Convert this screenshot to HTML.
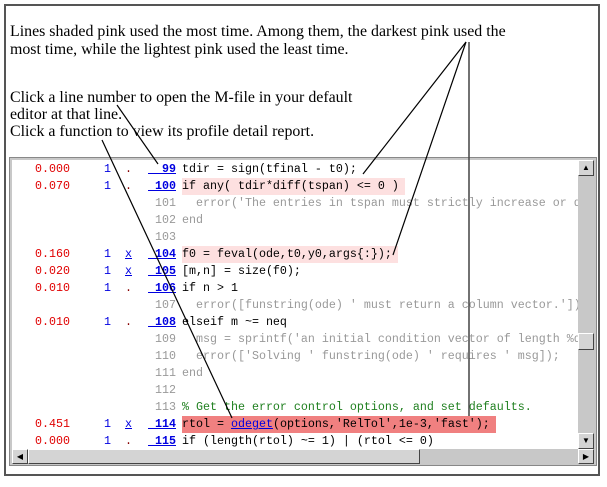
<!DOCTYPE html>
<html><head><meta charset="utf-8"><style>
body{margin:0;width:607px;height:487px;background:#fff;position:relative;overflow:hidden;font-family:"Liberation Serif",serif}
.t{position:absolute;font-size:15.9px;color:#000;white-space:nowrap;line-height:17px}
#outer{position:absolute;left:4px;top:4px;width:596px;height:472px;border:2px solid #555;box-sizing:border-box}
#panel{position:absolute;left:9px;top:157px;width:588px;height:309px;background:#c8c8c8;border:1px solid #888;box-sizing:border-box}
#code{position:absolute;left:12px;top:160px;width:566px;height:289px;background:#fff;overflow:hidden;font-family:"Liberation Mono",monospace;font-size:11.67px}
.r{position:absolute;left:0;height:17px;line-height:17px;white-space:pre;width:566px}
.tm{position:absolute;left:0;width:58px;text-align:right;color:#e00000}
.c1{position:absolute;left:92px;color:#0000e0}
.c2{position:absolute;left:113px;color:#800}
.c2 u,.ln u{color:#0000e0}
.ln{position:absolute;left:134px;width:30px;text-align:right;color:#999}
.ln b{color:#0000e0;text-decoration:underline}
.cd{position:absolute;left:170px;color:#000}
.g{color:#999}.gr{color:#208020}
.p1{background:#fde0e0;padding-right:6px}.p2{background:#f08080;padding-right:6px}
</style></head><body>
<div id="outer"></div>
<div class="t" style="left:10px;top:23px">Lines shaded pink used the most time. Among them, the darkest pink used the</div>
<div class="t" style="left:10px;top:41px">most time, while the lightest pink used the least time.</div>
<div class="t" style="left:10px;top:89px">Click a line number to open the M-file in your default</div>
<div class="t" style="left:10px;top:106px">editor at that line.</div>
<div class="t" style="left:10px;top:123px">Click a function to view its profile detail report.</div>
<div id="panel"></div>
<div id="code">
<div class="r" style="top:1px"><span class="tm">0.000</span><span class="c1">1</span><span class="c2">.</span><span class="ln"><b>  99</b></span><span class="cd">tdir = sign(tfinal - t0);</span></div>
<div class="r" style="top:18px"><span class="tm">0.070</span><span class="c1">1</span><span class="c2">.</span><span class="ln"><b> 100</b></span><span class="cd p1">if any( tdir*diff(tspan) &lt;= 0 )</span></div>
<div class="r" style="top:35px"><span class="ln">101</span><span class="cd g">  error('The entries in tspan must strictly increase or d</span></div>
<div class="r" style="top:52px"><span class="ln">102</span><span class="cd g">end</span></div>
<div class="r" style="top:69px"><span class="ln">103</span></div>
<div class="r" style="top:86px"><span class="tm">0.160</span><span class="c1">1</span><span class="c2"><u>x</u></span><span class="ln"><b> 104</b></span><span class="cd p1">f0 = feval(ode,t0,y0,args{:});</span></div>
<div class="r" style="top:103px"><span class="tm">0.020</span><span class="c1">1</span><span class="c2"><u>x</u></span><span class="ln"><b> 105</b></span><span class="cd">[m,n] = size(f0);</span></div>
<div class="r" style="top:120px"><span class="tm">0.010</span><span class="c1">1</span><span class="c2">.</span><span class="ln"><b> 106</b></span><span class="cd">if n &gt; 1</span></div>
<div class="r" style="top:137px"><span class="ln">107</span><span class="cd g">  error([funstring(ode) ' must return a column vector.'])</span></div>
<div class="r" style="top:154px"><span class="tm">0.010</span><span class="c1">1</span><span class="c2">.</span><span class="ln"><b> 108</b></span><span class="cd">elseif m ~= neq</span></div>
<div class="r" style="top:171px"><span class="ln">109</span><span class="cd g">  msg = sprintf('an initial condition vector of length %d</span></div>
<div class="r" style="top:188px"><span class="ln">110</span><span class="cd g">  error(['Solving ' funstring(ode) ' requires ' msg]);</span></div>
<div class="r" style="top:205px"><span class="ln">111</span><span class="cd g">end</span></div>
<div class="r" style="top:222px"><span class="ln">112</span></div>
<div class="r" style="top:239px"><span class="ln">113</span><span class="cd gr">% Get the error control options, and set defaults.</span></div>
<div class="r" style="top:256px"><span class="tm">0.451</span><span class="c1">1</span><span class="c2"><u>x</u></span><span class="ln"><b> 114</b></span><span class="cd p2">rtol = <u style="color:#0000e0">odeget</u>(options,'RelTol',1e-3,'fast');</span></div>
<div class="r" style="top:273px"><span class="tm">0.000</span><span class="c1">1</span><span class="c2">.</span><span class="ln"><b> 115</b></span><span class="cd">if (length(rtol) ~= 1) | (rtol &lt;= 0)</span></div>
</div>
<div style="position:absolute;left:578px;top:160px;width:16px;height:289px;background:#c8c8c8"></div>
<div style="position:absolute;left:578px;top:160px;width:14px;height:14px;background:#d4d4d4;border:1px solid;border-color:#fff #444 #444 #fff;font-size:8px;text-align:center;line-height:14px">▲</div>
<div style="position:absolute;left:578px;top:333px;width:14px;height:15px;background:#d4d4d4;border:1px solid;border-color:#fff #444 #444 #fff"></div>
<div style="position:absolute;left:578px;top:433px;width:14px;height:14px;background:#d4d4d4;border:1px solid;border-color:#fff #444 #444 #fff;font-size:8px;text-align:center;line-height:14px">▼</div>
<div style="position:absolute;left:12px;top:449px;width:582px;height:15px;background:#c8c8c8"></div>
<div style="position:absolute;left:12px;top:449px;width:14px;height:13px;background:#d4d4d4;border:1px solid;border-color:#fff #444 #444 #fff;font-size:8px;text-align:center;line-height:13px">◀</div>
<div style="position:absolute;left:28px;top:449px;width:390px;height:13px;background:#d4d4d4;border:1px solid;border-color:#fff #444 #444 #fff"></div>
<div style="position:absolute;left:578px;top:449px;width:14px;height:13px;background:#d4d4d4;border:1px solid;border-color:#fff #444 #444 #fff;font-size:8px;text-align:center;line-height:13px">▶</div>
<svg width="607" height="487" style="position:absolute;left:0;top:0">
<g stroke="#000" stroke-width="1.2" fill="none">
<line x1="466" y1="42" x2="363" y2="174"/>
<line x1="466" y1="42" x2="393" y2="255"/>
<line x1="469" y1="42" x2="469" y2="416" stroke="#444" stroke-width="1.5"/>
<line x1="117" y1="105" x2="158" y2="164"/>
<line x1="102" y1="140" x2="232" y2="418"/>
</g></svg>
</body></html>
